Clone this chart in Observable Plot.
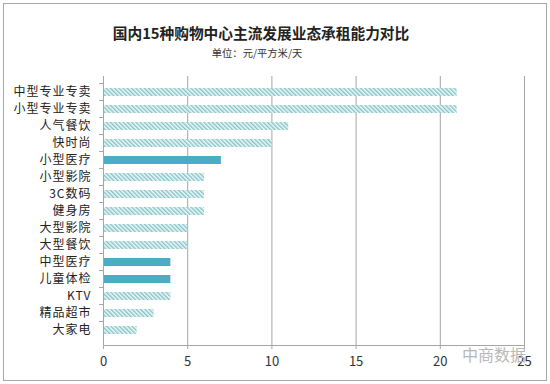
<!DOCTYPE html>
<html><head><meta charset="utf-8">
<script src="https://cdn.jsdelivr.net/npm/d3@7"></script>
<script src="https://cdn.jsdelivr.net/npm/@observablehq/plot@0.6"></script>
<style>
body{margin:0;background:#fff;font-family:"Noto Sans CJK SC",sans-serif;}
#wrap{position:relative;width:550px;height:384px;overflow:hidden;}
#border{position:absolute;left:3px;top:3px;width:542px;height:376px;border:1px solid #a8a8a8;}
#title{position:absolute;left:0;width:522px;top:22px;text-align:center;font-size:14.7px;font-weight:bold;color:#222;line-height:22px;}
#sub{position:absolute;left:0;width:514px;top:45px;text-align:center;font-size:10.3px;color:#333;line-height:16px;}
#chart{position:absolute;left:0;top:0;}
#wm{position:absolute;left:462px;top:343px;font-size:16px;color:#b8b8b8;line-height:22px;}
g[aria-label="y-axis tick label"] text{letter-spacing:1px;}
</style></head>
<body><div id="wrap"><div id="border"></div><div id="chart"></div>
<div id="title">国内15种购物中心主流发展业态承租能力对比</div>
<div id="sub">单位：元/平方米/天</div>
<div id="wm">中商数据</div></div>
<script>
const categories = ["中型专业专卖","小型专业专卖","人气餐饮","快时尚","小型医疗","小型影院","3C数码","健身房","大型影院","大型餐饮","中型医疗","儿童体检","KTV","精品超市","大家电"];
const values = [21,21,11,10,7,6,6,6,5,5,4,4,4,3,2];
const highlighted = ["小型医疗","中型医疗","儿童体检"];
const xTicks = [0,5,10,15,20,25];
const data = categories.map((c,i)=>({category:c, value:values[i], solid: highlighted.includes(c)}));

const defs = () => {
  const svg = d3.create("svg:defs");
  const p = svg.append("pattern").attr("id","hatch").attr("patternUnits","userSpaceOnUse")
    .attr("width",3).attr("height",3).attr("patternTransform","rotate(-45)");
  p.append("rect").attr("width",3).attr("height",3).attr("fill","#f1f8f8");
  p.append("line").attr("x1",0.75).attr("y1",0).attr("x2",0.75).attr("y2",3).attr("stroke","#6cbabd").attr("stroke-width",1.2);
  return svg.node();
};

const spike = {draw(ctx, l){ ctx.moveTo(0,0); ctx.lineTo(0,-l); }};

const chart = Plot.plot({
  width:550, height:384,
  marginLeft:103, marginRight:26, marginTop:76, marginBottom:39,
  style:{fontFamily:"'Noto Sans CJK SC',sans-serif", color:"#222", background:"transparent"},
  x:{domain:[0,25]},
  y:{domain:categories, padding:0.55},
  marks:[
    defs,
    Plot.gridX(xTicks.slice(1), {stroke:"#a6a6a6", strokeOpacity:1}),
    Plot.barX(data.filter(d=>!d.solid), {x:"value", y:"category", fill:"url(#hatch)"}),
    Plot.barX(data.filter(d=>d.solid), {x:"value", y:"category", fill:"#4bacc6"}),
    Plot.ruleX([0], {stroke:"#a6a6a6"}),
    Plot.frame({anchor:"bottom", stroke:"#a6a6a6"}),
    Plot.vector(categories, {x:()=>0, y:d=>d, rotate:-90, length:4, anchor:"start", shape:spike, stroke:"#a6a6a6", strokeWidth:1, dy:-9}),
    Plot.axisX({ticks:xTicks, tickSize:4, tickPadding:7, fontSize:13, stroke:"#a6a6a6", fill:"#333", label:null}),
    Plot.axisY({tickSize:0, tickPadding:12, fontSize:12, fill:"#222", label:null})
  ]
});
document.getElementById("chart").append(chart);
</script></body></html>
